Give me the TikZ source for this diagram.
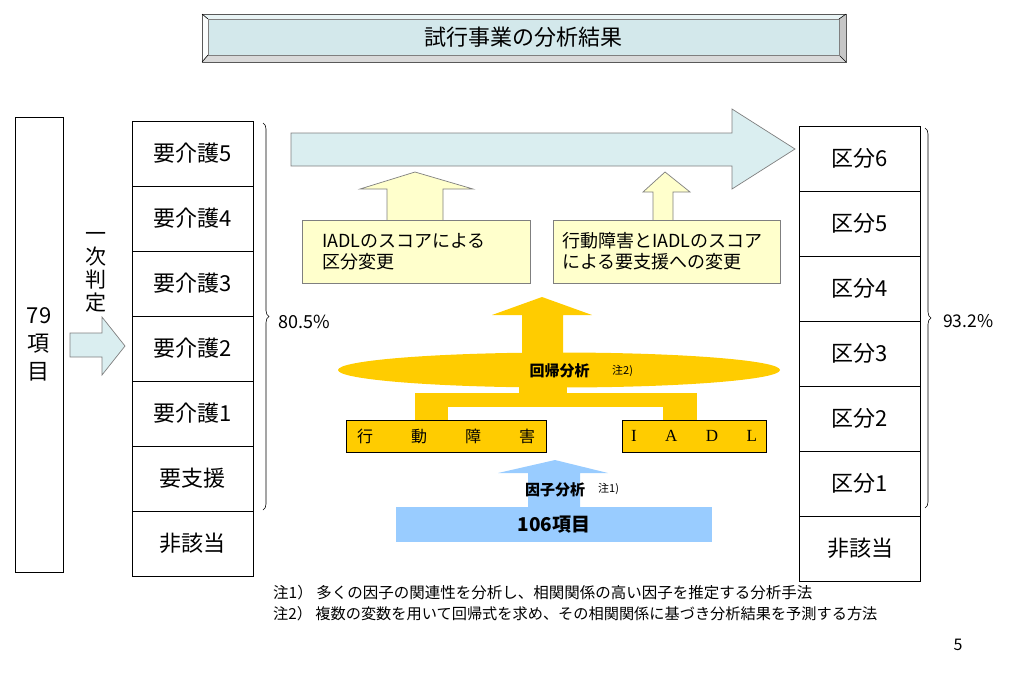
\documentclass[tikz,border=0pt]{standalone}
\usepackage{fontspec}
\setmainfont{Noto Sans CJK JP}
\newfontfamily\latinserif{Liberation Serif}
\usetikzlibrary{shapes.geometric,decorations.pathreplacing}
\definecolor{titlefill}{HTML}{D3E8EB}
\definecolor{paleblue}{HTML}{DAEEF0}
\definecolor{paleyellow}{HTML}{FFFFCC}
\definecolor{gold}{HTML}{FFCC00}
\definecolor{skyblue}{HTML}{99CCFF}
\definecolor{edge}{HTML}{7F7F7F}

\begin{document}
\begin{tikzpicture}[x=1pt,y=-1pt,
    cell/.style={draw, line width=0.7pt, minimum width=121pt, minimum height=65pt, inner sep=0pt, font=\fontsize{22}{22}\selectfont},
    note/.style={draw=edge, fill=paleyellow, line width=0.7pt, minimum height=63pt, align=left, font=\fontsize{18}{21}\selectfont},
    goldbox/.style={draw, fill=gold, line width=0.7pt, minimum width=#1, minimum height=32pt, inner sep=0pt},
    brace/.style={decorate, decoration={brace, amplitude=6pt}, line width=0.6pt},
    small/.style={font=\fontsize{11}{11}\selectfont}]
    \useasboundingbox (0,0) rectangle (1024,689);
    \fill[titlefill!50!white] (202,14)--(846,14)--(839,19)--(208,19)--cycle;
    \fill[white!90!titlefill] (202,14)--(208,19)--(208,55)--(202,62)--cycle;
    \fill[gray!45] (846,14)--(846,62)--(839,55)--(839,19)--cycle;
    \fill[gray!30] (202,62)--(846,62)--(839,55)--(208,55)--cycle;
    \draw[edge!70!black, line width=0.7pt] (202,14) rectangle (846,62);
    \foreach \x/\y/\u/\v in {202/14/208/19, 846/14/839/19, 202/62/208/55, 846/62/839/55}{
    \draw[black, line width=0.6pt](\x,\y)--(\u,\v);
    }
    \node (title) at (523.5,37)[draw=edge, fill=titlefill, minimum width=631pt, minimum height=36pt, font=\fontsize{22}{22}\selectfont]{試行事業の分析結果};
    \node (items) at (39,344.5)[draw, line width=0.7pt, minimum width=48pt, minimum height=455pt, align=center, font=\fontsize{22}{28}\selectfont]{79\\項\\目};
    \node (ichiji) at (96,272)[align=center, inner sep=0pt, font=\fontsize{21}{23}\selectfont]{一\\次\\判\\定};
    \filldraw[fill=paleblue, draw=edge, line width=0.7pt] (70,333)--(102,333)--(102,317)--(125,346)--(102,375)--(102,357)--(70,357)--cycle;
    \foreach \t [count=\i] in {要介護5,要介護4,要介護3,要介護2,要介護1,要支援,非該当}{
    \node (k\i) at (192.5,{121+65*\i-32.5})[cell]{\t};
    }
    \foreach \t [count=\i] in {区分6,区分5,区分4,区分3,区分2,区分1,非該当}{
    \node (r\i) at (860,{126+65*\i-32.5})[cell]{\t};
    }
    \draw[brace] (263,123)--(263,510);
    \node (p1) at (278,322)[right, inner sep=0pt, font=\fontsize{18}{18}\selectfont]{80.5\%};
    \draw[brace] (925,128)--(925,508);
    \node (p2) at (943,321)[right, inner sep=0pt, font=\fontsize{17.5}{17.5}\selectfont]{93.2\%};
    \filldraw[fill=paleblue, draw=edge, line width=0.7pt] (291,133)--(732,133)--(732,109)--(795,149)--(732,189)--(732,166)--(291,166)--cycle;
    \filldraw[fill=paleyellow, draw=edge, line width=0.7pt] (387,222)--(387,189)--(360,189)--(415,172)--(473,189)--(443,189)--(443,222);
    \filldraw[fill=paleyellow, draw=edge, line width=0.7pt] (653,222)--(653,192)--(643,192)--(665,172)--(690,192)--(673,192)--(673,222);
    \node (n1) at (416,251.5)[note, inner xsep=20pt, text width=188pt]{IADLのスコアによる\\区分変更};
    \node (n2) at (666.5,251.5)[note, inner xsep=9pt, text width=209pt]{行動障害とIADLのスコア\\による要支援への変更};
    \fill[gold] (492,315)--(542,297)--(592,315)--(563,315)--(563,360)--(522,360)--(522,315)--cycle;
    \node (kaiki) at (559,370)[ellipse, fill=gold, minimum width=442pt, minimum height=35pt]{};
    \fill[gold] (519,375) rectangle (567,407);
    \fill[gold] (415,393) rectangle (697,407);
    \fill[gold] (415,393) rectangle (448,421);
    \fill[gold] (663,393) rectangle (697,421);
    \node (kt) at (559.5,371)[font=\bfseries\fontsize{15}{15}\selectfont]{回帰分析};
    \node (c2) at (612,371)[right, inner sep=0pt, small]{注2)};
    \node (behav) at (446,436)[goldbox=200pt, font=\fontsize{16}{16}\selectfont]{\makebox[178pt]{行\hfill 動\hfill 障\hfill 害}};
    \node (iadl) at (694,436)[goldbox=144pt, font=\latinserif\fontsize{17}{17}\selectfont]{\makebox[126pt]{I\hfill A\hfill D\hfill L}};
    \fill[skyblue] (498,473)--(555,460)--(608,473)--(580,473)--(580,508)--(528,508)--(528,473)--cycle;
    \node (items106) at (554,524.5)[fill=skyblue, minimum width=316pt, minimum height=35pt, font=\bfseries\fontsize{19}{19}\selectfont]{106項目};
    \node (fa) at (555,490)[font=\bfseries\fontsize{15}{15}\selectfont]{因子分析};
    \node (c1) at (598,489)[right, inner sep=0pt, small]{注1)};
    \node (f1) at (273,593)[right, inner sep=0pt, font=\fontsize{15.5}{15.5}\selectfont]{注1）\ 多くの因子の関連性を分析し、相関関係の高い因子を推定する分析手法};
    \node (f2) at (273,614)[right, inner sep=0pt, font=\fontsize{15.2}{15.2}\selectfont]{注2）\ 複数の変数を用いて回帰式を求め、その相関関係に基づき分析結果を予測する方法};
    \node (page) at (958,645)[font=\fontsize{16}{16}\selectfont]{5};
\end{tikzpicture}
\end{document}
